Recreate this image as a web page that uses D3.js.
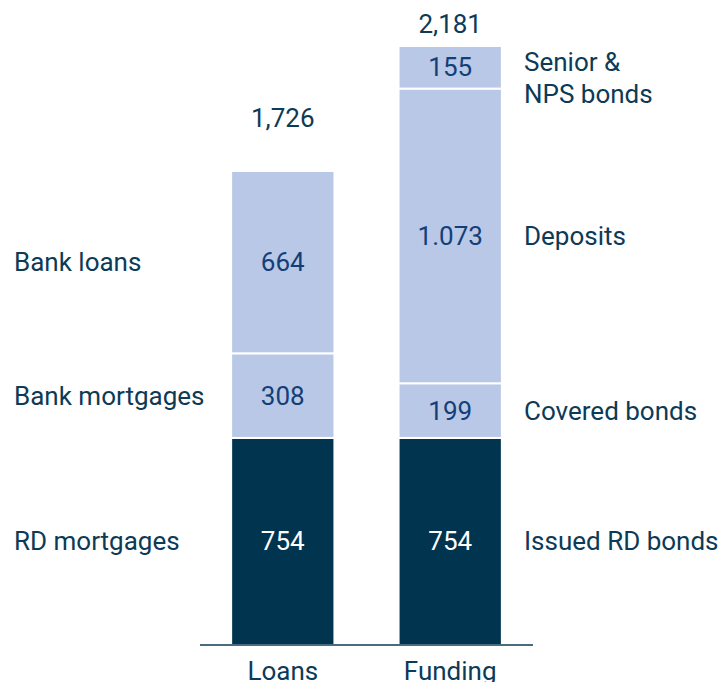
<!DOCTYPE html>
<html>
<head>
<meta charset="utf-8">
<script src="https://cdn.jsdelivr.net/npm/d3@7"></script>
<style>
  body { margin: 0; background: #fff; }
  text { font-family: "Roboto", "DejaVu Sans", sans-serif; }
</style>
</head>
<body>
<svg id="chart" width="723" height="682"></svg>
<script>
var bars = ["Loans", "Funding"];
var loanLabels = ["RD mortgages", "Bank mortgages", "Bank loans"];
var loanValues = [754, 308, 664];
var fundLabels = ["Issued RD bonds", "Covered bonds", "Deposits", "Senior &\nNPS bonds"];
var fundValues = [754, 199, 1073, 155];
var valueText = {Loans: ["754", "308", "664"], Funding: ["754", "199", "1.073", "155"]};
var totals = ["1,726", "2,181"];

var dark = "#00344f", light = "#b8c8e6", ink = "#0d3a56", blueInk = "#133f78";
var fs = "26px";

var svg = d3.select("#chart");
var base = 645;

var x = d3.scaleBand().domain(bars).range([200, 533]).paddingInner(0.383).paddingOuter(0.186);
var y = d3.scaleLinear().domain([0, 2181]).range([base, 46]);

function stack(values) {
    var acc = 0;
    return values.map(function(v, i) {
        var s = {i: i, v: v, y0: acc, y1: acc + v};
        acc += v;
        return s;
    });
}

var series = {Loans: stack(loanValues), Funding: stack(fundValues)};

bars.forEach(function(b, bi) {
    var g = svg.append("g").attr("class", "bar");
    g.selectAll("rect")
        .data(series[b])
        .enter()
        .append("rect")
        .attr("x", x(b))
        .attr("width", x.bandwidth())
        .attr("y", function(d) { return y(d.y1); })
        .attr("height", function(d) { return y(d.y0) - y(d.y1); })
        .style("fill", function(d) { return d.i === 0 ? dark : light; })
        .style("stroke", "#fff")
        .style("stroke-width", 2);

    g.selectAll("text.val")
        .data(series[b])
        .enter()
        .append("text")
        .attr("class", "val")
        .attr("x", x(b) + x.bandwidth() / 2)
        .attr("y", function(d) { return (y(d.y0) + y(d.y1)) / 2; })
        .attr("text-anchor", "middle")
        .attr("dominant-baseline", "central")
        .style("font-size", fs)
        .style("fill", function(d) { return d.i === 0 ? "#fff" : blueInk; })
        .text(function(d) { return valueText[b][d.i]; });

    var top = series[b][series[b].length - 1].y1;
    svg.append("text")
        .attr("x", x(b) + x.bandwidth() / 2)
        .attr("y", y(top) - (bi === 0 ? 53 : 22))
        .attr("text-anchor", "middle")
        .attr("dominant-baseline", "central")
        .style("font-size", fs)
        .style("fill", ink)
        .text(totals[bi]);

    svg.append("text")
        .attr("x", x(b) + x.bandwidth() / 2)
        .attr("y", 671)
        .attr("text-anchor", "middle")
        .attr("dominant-baseline", "central")
        .style("font-size", fs)
        .style("fill", ink)
        .text(b);
});

// axis line
svg.append("line")
    .attr("x1", 200).attr("x2", 533)
    .attr("y1", base).attr("y2", base)
    .style("stroke", ink)
    .style("stroke-width", 1.5);

// left labels
svg.selectAll("text.left")
    .data(series.Loans)
    .enter()
    .append("text")
    .attr("class", "left")
    .attr("x", 14)
    .attr("y", function(d) { return (y(d.y0) + y(d.y1)) / 2; })
    .attr("dominant-baseline", "central")
    .style("font-size", fs)
    .style("fill", ink)
    .text(function(d) { return loanLabels[d.i]; });

// right labels
series.Funding.forEach(function(d) {
    var lines = fundLabels[d.i].split("\n");
    var cy = (y(d.y0) + y(d.y1)) / 2;
    var t = svg.append("text")
        .attr("x", 524)
        .attr("y", lines.length > 1 ? cy - 5 : cy)
        .attr("dominant-baseline", "central")
        .style("font-size", fs)
        .style("fill", ink);
    lines.forEach(function(l, li) {
        t.append("tspan").attr("x", 524).attr("dy", li === 0 ? 0 : 32).text(l);
    });
});
</script>
</body>
</html>
